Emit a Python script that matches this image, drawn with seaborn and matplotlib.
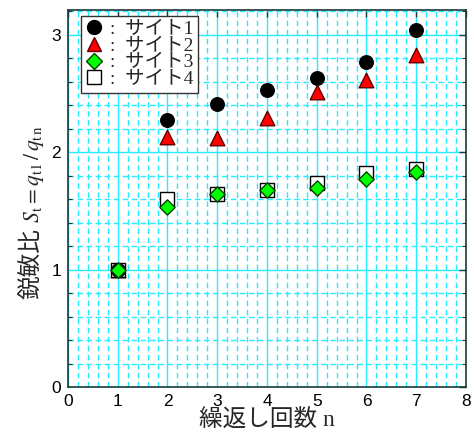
import matplotlib
matplotlib.use("Agg")
import matplotlib.pyplot as plt
import seaborn as sns
import pandas as pd
from matplotlib.ticker import MultipleLocator
from matplotlib.lines import Line2D

# Sensitivity ratio per repetition count for four sites
n_values = [1, 2, 3, 4, 5, 6, 7]
site1 = [1.00, 2.27, 2.41, 2.53, 2.63, 2.77, 3.04]
site2 = [1.00, 2.13, 2.12, 2.29, 2.51, 2.61, 2.83]
site3 = [1.00, 1.53, 1.64, 1.675, 1.695, 1.77, 1.83]
site4 = [1.00, 1.60, 1.64, 1.68, 1.74, 1.82, 1.86]
site_labels = ["サイト1", "サイト2", "サイト3", "サイト4"]

sns.set_style("white")
plt.rcParams["mathtext.fontset"] = "stix"
serif_jp = ["Liberation Serif", "Noto Sans CJK JP"]

fig = plt.figure(figsize=(4.74, 4.32), dpi=100)
ax = fig.add_axes([0.1435, 0.104, 0.8395, 0.873])

grid_c = "#22EEFF"
ax.set_xlim(0, 8)
ax.set_ylim(0, 3.21)
ax.xaxis.set_major_locator(MultipleLocator(1))
ax.yaxis.set_major_locator(MultipleLocator(1))
ax.xaxis.set_minor_locator(MultipleLocator(0.2))
ax.yaxis.set_minor_locator(MultipleLocator(0.2))
ax.grid(which="major", color=grid_c, lw=1.0, ls="-", zorder=0)
ax.grid(which="minor", color=grid_c, lw=1.0, ls=(0, (4, 2.5)), zorder=0)
ax.set_axisbelow(True)

# (values, marker, face, edge, size, z-order)
styles = [
    (site1, "o", "black", "black", 95, 4),
    (site2, "^", "red", "#600000", 110, 2),
    (site3, "D", "#00FF00", "#004000", 60, 5),
    (site4, "s", "white", "black", 115, 3),
]
handles = []
for (vals, mk, fc, ec, s, z), lab in zip(styles, site_labels):
    df = pd.DataFrame({"n": n_values, "S": vals})
    sns.scatterplot(data=df, x="n", y="S", marker=mk, color=fc, edgecolor=ec,
                    linewidth=1.0, s=s, ax=ax, legend=False)
    ax.collections[-1].set_zorder(z)
    handles.append(Line2D([], [], ls="none", marker=mk, markerfacecolor=fc,
                          markeredgecolor=ec, markersize=10 if mk != "D" else 8,
                          markeredgewidth=1.0, label=":  " + lab))

for sp in ax.spines.values():
    sp.set_color("#1a3a3a")
    sp.set_linewidth(1.2)
    sp.set_zorder(6)

ax.tick_params(which="major", direction="in", length=5, width=1.0, colors="#1a3a3a",
               top=True, right=True, labelsize=12.5, labelcolor="black", pad=5)
ax.tick_params(which="minor", direction="in", length=3, width=0.8, colors="#1a3a3a",
               top=False, right=True, left=True, bottom=False)
for t in ax.get_xticklabels() + ax.get_yticklabels():
    t.set_fontfamily("Liberation Sans")

ax.set_xlabel("")
ax.set_ylabel("")

# x-axis label, anchored on its baseline just above the bottom edge
fig.text(0.563, 0.012, "繰返し回数 n", family=serif_jp, fontsize=17,
         ha="center", va="baseline")

# y-axis label: Japanese part and math part joined along a shared baseline
yl_x, yl_y = 0.082, 0.473
fig.text(yl_x, yl_y, "鋭敏比", family=serif_jp, fontsize=17, rotation=90,
         rotation_mode="anchor", ha="right", va="baseline")
fig.text(yl_x, yl_y + 0.006, r"$\,S_\mathrm{t} = q_\mathrm{t1}\,/\,q_\mathrm{t\,n}$",
         fontsize=15.5, rotation=90, rotation_mode="anchor", ha="left", va="baseline")

leg = ax.legend(handles=handles, loc="upper left", bbox_to_anchor=(0.032, 0.985),
                frameon=True, fancybox=False, framealpha=1, edgecolor="#333333",
                handlelength=0.9, handletextpad=0.35, labelspacing=-0.05,
                borderpad=0.25, borderaxespad=0.0,
                prop={"family": serif_jp, "size": 14})
leg.get_frame().set_linewidth(1.0)
leg.set_zorder(10)

fig.savefig("out.png", dpi=100)
